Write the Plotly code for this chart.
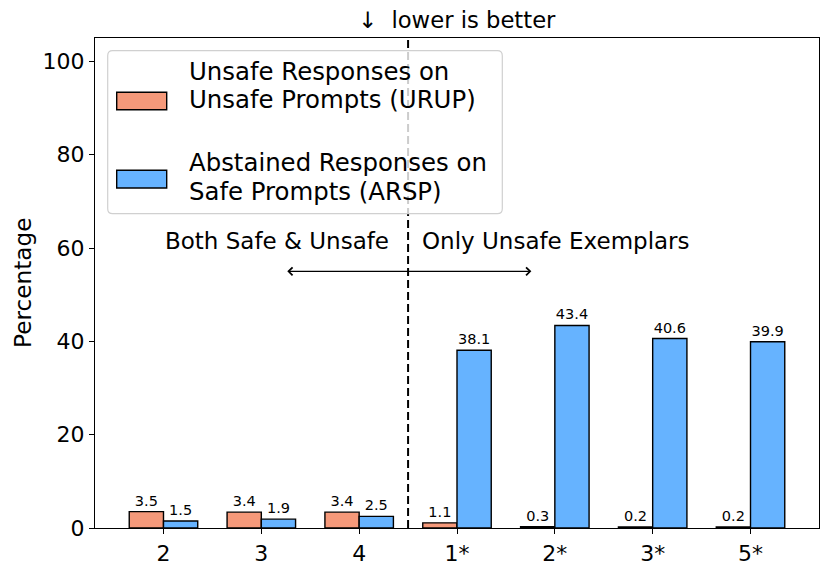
import plotly.graph_objects as go

# ---- data ----
categories = ["2", "3", "4", "1*", "2*", "3*", "5*"]
urup = [3.5, 3.4, 3.4, 1.1, 0.3, 0.2, 0.2]
arsp = [1.5, 1.9, 2.5, 38.1, 43.4, 40.6, 39.9]
series_names = ["Unsafe Responses on<br>Unsafe Prompts (URUP)",
                "Abstained Responses on<br>Safe Prompts (ARSP)"]
y_ticks = [0, 20, 40, 60, 80, 100]

ORANGE = "#F5997A"
BLUE = "#66B3FF"
FONT = "DejaVu Sans"

x_pos = list(range(len(categories)))
bw = 0.35

fig = go.Figure()
fig.add_trace(go.Bar(
    x=x_pos, y=urup, width=bw, offset=-bw, name="URUP",
    marker=dict(color=ORANGE, line=dict(color="black", width=1.4)),
    text=[f"{v:.1f}" for v in urup], textposition="outside", constraintext="none",
    textfont=dict(size=14.5, color="black", family=FONT), cliponaxis=False,
    showlegend=False,
))
fig.add_trace(go.Bar(
    x=x_pos, y=arsp, width=bw, offset=0, name="ARSP",
    marker=dict(color=BLUE, line=dict(color="black", width=1.4)),
    text=[f"{v:.1f}" for v in arsp], textposition="outside", constraintext="none",
    textfont=dict(size=14.5, color="black", family=FONT), cliponaxis=False,
    showlegend=False,
))

# plot-area pixel geometry helpers (for legend placement, paper coords)
L, R, T, B = 95, 819, 38, 528
W, H = R - L, B - T
def px(xp):
    return (xp - L) / W
def py(yp):
    return (B - yp) / H

shapes = []
# dashed separator
shapes.append(dict(type="line", xref="x", yref="paper", x0=2.5, x1=2.5, y0=0, y1=1,
                   line=dict(color="black", width=2, dash="8px,4px"), layer="above"))

# legend box (rounded)
x0, x1, y0, y1 = px(107.7), px(502.3), py(213.7), py(50.7)
rx, ry = 5 / W, 5 / H
path = (f"M{x0+rx},{y0} L{x1-rx},{y0} Q{x1},{y0} {x1},{y0+ry} "
        f"L{x1},{y1-ry} Q{x1},{y1} {x1-rx},{y1} L{x0+rx},{y1} "
        f"Q{x0},{y1} {x0},{y1-ry} L{x0},{y0+ry} Q{x0},{y0} {x0+rx},{y0} Z")
shapes.append(dict(type="path", xref="paper", yref="paper", path=path,
                   fillcolor="rgba(255,255,255,0.8)", line=dict(color="#d0d0d0", width=1.2),
                   layer="above"))
# legend patches
for (ytop, ybot), col in [((92.3, 109.7), ORANGE), ((170.3, 188.0), BLUE)]:
    shapes.append(dict(type="rect", xref="paper", yref="paper",
                       x0=px(116.7), x1=px(166.7), y0=py(ybot), y1=py(ytop),
                       fillcolor=col, line=dict(color="black", width=1.4), layer="above"))

annotations = []
for (ya, yb), name in [((71.0, 99.7), series_names[0]), ((163.0, 191.3), series_names[1])]:
    lines = name.split("<br>")
    for yc, line in zip((ya, yb), lines):
        annotations.append(dict(xref="paper", yref="paper", x=px(186.7), y=py(yc),
                                text=line, showarrow=False, xanchor="left", yanchor="middle",
                                align="left", font=dict(size=24.4, color="black", family=FONT)))

# region labels
annotations.append(dict(xref="x", yref="y", x=2.33, y=61.4, text="Both Safe & Unsafe",
                        showarrow=False, xanchor="right", yanchor="middle",
                        font=dict(size=23, color="black", family=FONT)))
annotations.append(dict(xref="x", yref="y", x=2.62, y=61.4, text="Only Unsafe Exemplars",
                        showarrow=False, xanchor="left", yanchor="middle",
                        font=dict(size=23, color="black", family=FONT)))
# double arrow
annotations.append(dict(xref="x", yref="y", axref="x", ayref="y",
                        x=3.76, y=55, ax=1.25, ay=55, text="", showarrow=True,
                        arrowhead=4, startarrowhead=4, arrowside="end+start",
                        arrowsize=1.2, startarrowsize=1.2, arrowwidth=1.3, arrowcolor="black",
                        standoff=0, startstandoff=0))
# title
annotations.append(dict(xref="paper", yref="paper", x=0.5, y=py(20), text="↓  lower is better",
                        showarrow=False, xanchor="center", yanchor="middle",
                        font=dict(size=22.7, color="black", family=FONT)))
# y axis title
annotations.append(dict(xref="paper", yref="paper", x=px(22), y=0.5, text="Percentage",
                        showarrow=False, xanchor="center", yanchor="middle", textangle=-90,
                        font=dict(size=23.2, color="black", family=FONT)))

fig.update_layout(
    width=830, height=573,
    margin=dict(l=L, r=830 - R, t=T, b=573 - B, autoexpand=False),
    plot_bgcolor="white", paper_bgcolor="white",
    font=dict(family=FONT, color="black"),
    barmode="overlay",
    shapes=shapes, annotations=annotations,
    xaxis=dict(range=[-0.7, 6.7], tickvals=x_pos, ticktext=categories,
               showline=True, linecolor="black", linewidth=1.2, mirror=True,
               ticks="outside", ticklen=5, tickwidth=1.2, tickcolor="black",
               tickfont=dict(size=22, color="black", family=FONT),
               showgrid=False, zeroline=False, automargin=False),
    yaxis=dict(range=[0, 105], tickvals=y_ticks,
               showline=True, linecolor="black", linewidth=1.2, mirror=True,
               ticks="outside", ticklen=5, tickwidth=1.2, tickcolor="black",
               tickfont=dict(size=22, color="black", family=FONT),
               showgrid=False, zeroline=False, automargin=False),
)

fig.write_html("out.html", config={"displayModeBar": False},
               post_script="document.body.style.margin='0';document.body.style.overflow='hidden';")
